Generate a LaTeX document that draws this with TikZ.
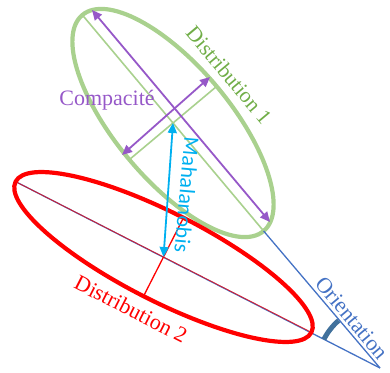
\documentclass[tikz,border=0pt]{standalone}
\usepackage{fontspec}
\setmainfont{Liberation Serif}
\newfontfamily\carlito{Carlito}
\usetikzlibrary{arrows.meta,calc}
\definecolor{greenEll}{RGB}{169,209,142}
\definecolor{greenTxt}{RGB}{112,173,71}
\definecolor{blueLine}{RGB}{68,114,196}
\definecolor{arcCol}{RGB}{65,113,156}
\definecolor{purp}{RGB}{150,88,200}
\definecolor{cyanA}{RGB}{0,176,240}
\definecolor{redE}{RGB}{255,0,0}
\tikzset{
  ell/.style={line width=4.2pt},
  axisline/.style={line width=1.6pt, greenEll},
  blueln/.style={line width=1.3pt, blueLine},
  dblarrow/.style={line width=1.8pt, {Triangle[length=10pt,width=9pt]}-{Triangle[length=10pt,width=9pt]}},
  lbl/.style={inner sep=0pt, font=\fontsize{22}{26}\selectfont}
}
\begin{document}
\begin{tikzpicture}[x=1pt,y=1pt]
\useasboundingbox (0,0) rectangle (390,-372);
% key points
\coordinate (A) at (380,-368);
\coordinate (G) at (173,-123);
\coordinate (R) at (163.5,-257);
\coordinate (G1) at ($(G)+(130:141pt)$);
\coordinate (G2) at ($(G)+(-50:141pt)$);
\coordinate (G3) at ($(G)+(40:57pt)$);
\coordinate (G4) at ($(G)+(-140:57pt)$);
\coordinate (R1) at ($(R)+(153:166pt)$);
\coordinate (R2) at ($(R)+(-27:166pt)$);
\coordinate (R3) at ($(R)+(63:44pt)$);
\coordinate (R4) at ($(R)+(-117:44pt)$);
\coordinate (P1) at (92,-10);
\coordinate (P2) at (270,-222);
\coordinate (P3) at (122,-155);
\coordinate (P4) at (210,-77);
% green distribution
\draw[ell, greenEll, shift={(G)}, rotate=-50] (0,0) ellipse [x radius=141pt, y radius=57pt];
\draw[axisline] (G1) -- (G2);
\draw[axisline] (G3) -- (G4);
% blue orientation lines
\draw[blueln] (A) -- (G2);
\draw[blueln] (A) -- (R1);
% red distribution
\draw[ell, redE, shift={(R)}, rotate=-27] (0,0) ellipse [x radius=166pt, y radius=44pt];
\draw[line width=0.9pt, redE, opacity=0.75] (R1) -- (R2);
\draw[line width=1.3pt, redE] (R3) -- (R4);
% orientation arc
\draw[line width=5pt, arcCol] ($(A)+(153:63pt)$) arc[start angle=153, end angle=131, radius=63pt];
% compactness arrows
\draw[dblarrow, purp] (P1) -- (P2);
\draw[dblarrow, purp] (P3) -- (P4);
% mahalanobis arrow
\draw[dblarrow, cyanA] (G) -- (R);
% labels
\node[lbl, text=purp] (tcomp) at (107,-100) {Compacité};
\node[lbl, text=greenTxt, rotate=-50, font=\fontsize{21.5}{26}\selectfont] (tdist1) at (229,-75) {Distribution 1};
\node[lbl, text=redE, rotate=-27] (tdist2) at (131,-309) {Distribution 2};
\node[lbl, text=blueLine, rotate=-50] (torient) at (352,-318) {Orientation};
\node[lbl, text=cyanA, rotate=-95, font=\carlito\fontsize{22}{26}\selectfont] (tmaha) at (187,-195) {Mahalanobis};
\end{tikzpicture}
\end{document}
